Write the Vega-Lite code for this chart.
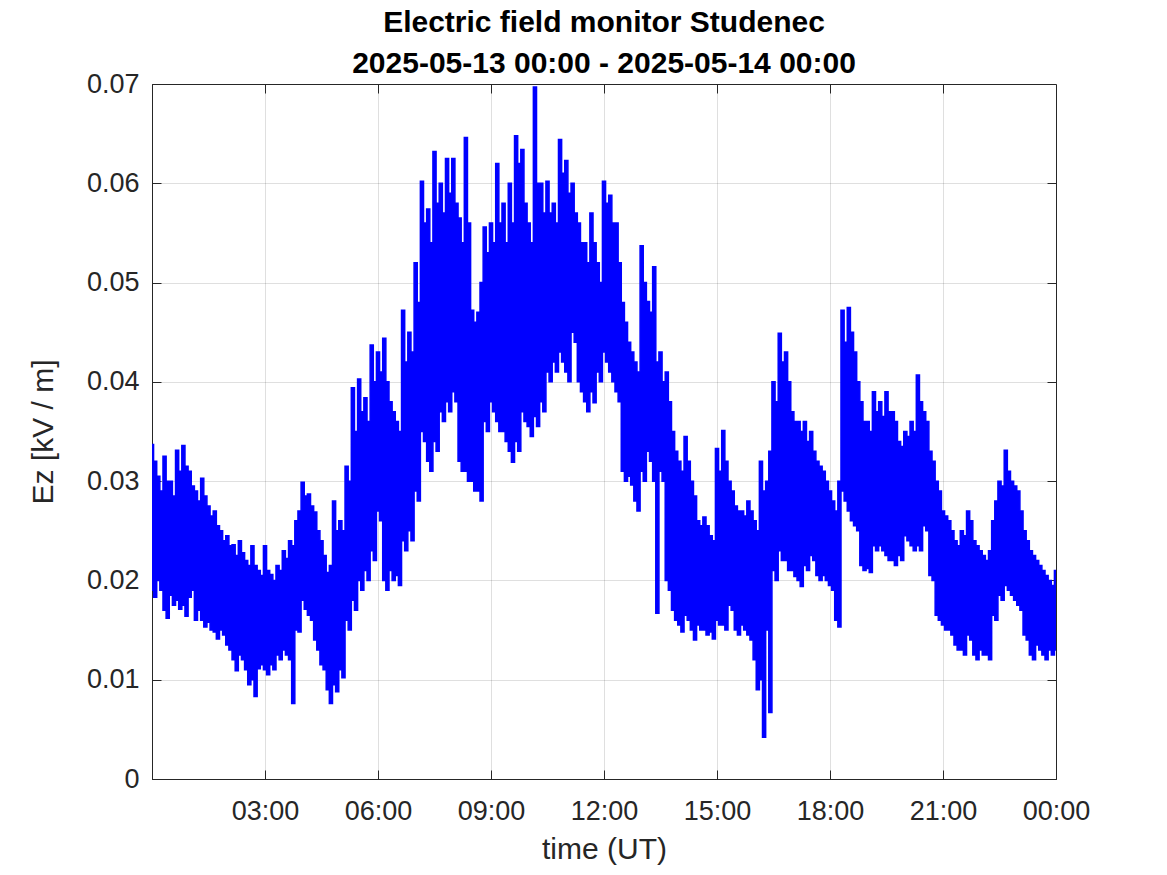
{
  "$schema": "https://vega.github.io/schema/vega-lite/v6.json",
  "width": 904,
  "height": 695,
  "autosize": {"type": "none"},
  "padding": {"left": 152, "top": 84, "right": 111, "bottom": 96},
  "background": "white",
  "config": {
    "font": "Liberation Sans",
    "view": {"stroke": "#262626", "strokeWidth": 1},
    "axis": {
      "domainColor": "#262626",
      "tickColor": "#262626",
      "labelColor": "#262626",
      "titleColor": "#262626",
      "labelFont": "Liberation Sans",
      "titleFont": "Liberation Sans",
      "labelFontSize": 27,
      "titleFontSize": 30,
      "titleFontWeight": "normal",
      "gridColor": "#262626",
      "gridOpacity": 0.15,
      "tickSize": -9
    }
  },
  "title": {
    "text": ["Electric field monitor Studenec", "2025-05-13 00:00 - 2025-05-14 00:00"],
    "fontSize": 30,
    "fontWeight": "bold",
    "color": "#000000",
    "font": "Liberation Sans",
    "anchor": "middle",
    "frame": "group",
    "lineHeight": 41,
    "offset": -9
  },
  "data": {"values": [
    {"m":0,"hi":0.0337,"lo":0.0190},{"m":5,"hi":0.0320,"lo":0.0183},{"m":10,"hi":0.0305,"lo":0.0200},{"m":15,"hi":0.0290,"lo":0.0190},
    {"m":20,"hi":0.0325,"lo":0.0170},{"m":25,"hi":0.0300,"lo":0.0162},{"m":30,"hi":0.0300,"lo":0.0185},{"m":35,"hi":0.0285,"lo":0.0175},
    {"m":40,"hi":0.0331,"lo":0.0180},{"m":45,"hi":0.0310,"lo":0.0171},{"m":50,"hi":0.0336,"lo":0.0175},{"m":55,"hi":0.0315,"lo":0.0164},
    {"m":60,"hi":0.0310,"lo":0.0183},{"m":65,"hi":0.0295,"lo":0.0190},{"m":70,"hi":0.0290,"lo":0.0160},{"m":75,"hi":0.0280,"lo":0.0170},
    {"m":80,"hi":0.0303,"lo":0.0160},{"m":85,"hi":0.0285,"lo":0.0153},{"m":90,"hi":0.0275,"lo":0.0158},{"m":95,"hi":0.0265,"lo":0.0150},
    {"m":100,"hi":0.0270,"lo":0.0148},{"m":105,"hi":0.0255,"lo":0.0141},{"m":110,"hi":0.0250,"lo":0.0150},{"m":115,"hi":0.0240,"lo":0.0145},
    {"m":120,"hi":0.0245,"lo":0.0135},{"m":125,"hi":0.0235,"lo":0.0130},{"m":130,"hi":0.0236,"lo":0.0120},{"m":135,"hi":0.0225,"lo":0.0109},
    {"m":140,"hi":0.0240,"lo":0.0125},{"m":145,"hi":0.0228,"lo":0.0120},{"m":150,"hi":0.0220,"lo":0.0110},{"m":155,"hi":0.0215,"lo":0.0095},
    {"m":160,"hi":0.0235,"lo":0.0100},{"m":165,"hi":0.0215,"lo":0.0083},{"m":170,"hi":0.0210,"lo":0.0111},{"m":175,"hi":0.0205,"lo":0.0115},
    {"m":180,"hi":0.0235,"lo":0.0110},{"m":185,"hi":0.0210,"lo":0.0105},{"m":190,"hi":0.0206,"lo":0.0115},{"m":195,"hi":0.0200,"lo":0.0110},
    {"m":200,"hi":0.0215,"lo":0.0125},{"m":205,"hi":0.0210,"lo":0.0120},{"m":210,"hi":0.0230,"lo":0.0130},{"m":215,"hi":0.0222,"lo":0.0125},
    {"m":220,"hi":0.0240,"lo":0.0120},{"m":225,"hi":0.0235,"lo":0.0076},{"m":230,"hi":0.0260,"lo":0.0150},{"m":235,"hi":0.0270,"lo":0.0148},
    {"m":240,"hi":0.0299,"lo":0.0180},{"m":245,"hi":0.0285,"lo":0.0171},{"m":250,"hi":0.0287,"lo":0.0165},{"m":255,"hi":0.0275,"lo":0.0160},
    {"m":260,"hi":0.0269,"lo":0.0140},{"m":265,"hi":0.0250,"lo":0.0130},{"m":270,"hi":0.0240,"lo":0.0115},{"m":275,"hi":0.0225,"lo":0.0110},
    {"m":280,"hi":0.0208,"lo":0.0090},{"m":285,"hi":0.0215,"lo":0.0076},{"m":290,"hi":0.0280,"lo":0.0095},{"m":295,"hi":0.0250,"lo":0.0088},
    {"m":300,"hi":0.0260,"lo":0.0110},{"m":305,"hi":0.0250,"lo":0.0102},{"m":310,"hi":0.0315,"lo":0.0160},{"m":315,"hi":0.0300,"lo":0.0150},
    {"m":320,"hi":0.0394,"lo":0.0180},{"m":325,"hi":0.0350,"lo":0.0170},{"m":330,"hi":0.0403,"lo":0.0200},{"m":335,"hi":0.0370,"lo":0.0190},
    {"m":340,"hi":0.0384,"lo":0.0210},{"m":345,"hi":0.0360,"lo":0.0200},{"m":350,"hi":0.0437,"lo":0.0230},{"m":355,"hi":0.0400,"lo":0.0220},
    {"m":360,"hi":0.0430,"lo":0.0270},{"m":365,"hi":0.0410,"lo":0.0260},{"m":370,"hi":0.0444,"lo":0.0200},{"m":375,"hi":0.0400,"lo":0.0190},
    {"m":380,"hi":0.0380,"lo":0.0210},{"m":385,"hi":0.0370,"lo":0.0200},{"m":390,"hi":0.0360,"lo":0.0205},{"m":395,"hi":0.0350,"lo":0.0195},
    {"m":400,"hi":0.0472,"lo":0.0240},{"m":405,"hi":0.0420,"lo":0.0230},{"m":410,"hi":0.0450,"lo":0.0250},{"m":415,"hi":0.0430,"lo":0.0240},
    {"m":420,"hi":0.0520,"lo":0.0290},{"m":425,"hi":0.0480,"lo":0.0280},{"m":430,"hi":0.0602,"lo":0.0350},{"m":435,"hi":0.0560,"lo":0.0340},
    {"m":440,"hi":0.0574,"lo":0.0320},{"m":445,"hi":0.0540,"lo":0.0310},{"m":450,"hi":0.0632,"lo":0.0340},{"m":455,"hi":0.0580,"lo":0.0330},
    {"m":460,"hi":0.0600,"lo":0.0370},{"m":465,"hi":0.0570,"lo":0.0360},{"m":470,"hi":0.0625,"lo":0.0380},{"m":475,"hi":0.0590,"lo":0.0370},
    {"m":480,"hi":0.0625,"lo":0.0390},{"m":485,"hi":0.0580,"lo":0.0380},{"m":490,"hi":0.0565,"lo":0.0320},{"m":495,"hi":0.0540,"lo":0.0310},
    {"m":500,"hi":0.0646,"lo":0.0310},{"m":505,"hi":0.0560,"lo":0.0300},{"m":510,"hi":0.0472,"lo":0.0300},{"m":515,"hi":0.0460,"lo":0.0290},
    {"m":520,"hi":0.0470,"lo":0.0290},{"m":525,"hi":0.0500,"lo":0.0280},{"m":530,"hi":0.0556,"lo":0.0360},{"m":535,"hi":0.0530,"lo":0.0350},
    {"m":540,"hi":0.0560,"lo":0.0380},{"m":545,"hi":0.0540,"lo":0.0370},{"m":550,"hi":0.0620,"lo":0.0360},{"m":555,"hi":0.0560,"lo":0.0350},
    {"m":560,"hi":0.0580,"lo":0.0350},{"m":565,"hi":0.0540,"lo":0.0340},{"m":570,"hi":0.0600,"lo":0.0330},{"m":575,"hi":0.0560,"lo":0.0319},
    {"m":580,"hi":0.0648,"lo":0.0340},{"m":585,"hi":0.0620,"lo":0.0330},{"m":590,"hi":0.0634,"lo":0.0370},{"m":595,"hi":0.0580,"lo":0.0360},
    {"m":600,"hi":0.0560,"lo":0.0355},{"m":605,"hi":0.0540,"lo":0.0345},{"m":610,"hi":0.0697,"lo":0.0365},{"m":615,"hi":0.0600,"lo":0.0355},
    {"m":620,"hi":0.0600,"lo":0.0380},{"m":625,"hi":0.0570,"lo":0.0370},{"m":630,"hi":0.0602,"lo":0.0410},{"m":635,"hi":0.0570,"lo":0.0400},
    {"m":640,"hi":0.0580,"lo":0.0420},{"m":645,"hi":0.0560,"lo":0.0410},{"m":650,"hi":0.0644,"lo":0.0430},{"m":655,"hi":0.0610,"lo":0.0420},
    {"m":660,"hi":0.0623,"lo":0.0410},{"m":665,"hi":0.0590,"lo":0.0400},{"m":670,"hi":0.0600,"lo":0.0450},{"m":675,"hi":0.0570,"lo":0.0440},
    {"m":680,"hi":0.0560,"lo":0.0400},{"m":685,"hi":0.0540,"lo":0.0390},{"m":690,"hi":0.0540,"lo":0.0380},{"m":695,"hi":0.0520,"lo":0.0370},
    {"m":700,"hi":0.0570,"lo":0.0390},{"m":705,"hi":0.0540,"lo":0.0379},{"m":710,"hi":0.0520,"lo":0.0410},{"m":715,"hi":0.0500,"lo":0.0400},
    {"m":720,"hi":0.0602,"lo":0.0430},{"m":725,"hi":0.0580,"lo":0.0420},{"m":730,"hi":0.0588,"lo":0.0410},{"m":735,"hi":0.0560,"lo":0.0400},
    {"m":740,"hi":0.0560,"lo":0.0390},{"m":745,"hi":0.0520,"lo":0.0380},{"m":750,"hi":0.0480,"lo":0.0310},{"m":755,"hi":0.0460,"lo":0.0300},
    {"m":760,"hi":0.0440,"lo":0.0305},{"m":765,"hi":0.0430,"lo":0.0296},{"m":770,"hi":0.0420,"lo":0.0280},{"m":775,"hi":0.0410,"lo":0.0270},
    {"m":780,"hi":0.0537,"lo":0.0310},{"m":785,"hi":0.0500,"lo":0.0300},{"m":790,"hi":0.0481,"lo":0.0330},{"m":795,"hi":0.0470,"lo":0.0320},
    {"m":800,"hi":0.0516,"lo":0.0300},{"m":805,"hi":0.0420,"lo":0.0167},{"m":810,"hi":0.0430,"lo":0.0310},{"m":815,"hi":0.0400,"lo":0.0300},
    {"m":820,"hi":0.0410,"lo":0.0200},{"m":825,"hi":0.0380,"lo":0.0190},{"m":830,"hi":0.0350,"lo":0.0170},{"m":835,"hi":0.0330,"lo":0.0160},
    {"m":840,"hi":0.0320,"lo":0.0155},{"m":845,"hi":0.0310,"lo":0.0148},{"m":850,"hi":0.0345,"lo":0.0165},{"m":855,"hi":0.0320,"lo":0.0160},
    {"m":860,"hi":0.0300,"lo":0.0150},{"m":865,"hi":0.0285,"lo":0.0140},{"m":870,"hi":0.0260,"lo":0.0155},{"m":875,"hi":0.0255,"lo":0.0150},
    {"m":880,"hi":0.0264,"lo":0.0150},{"m":885,"hi":0.0255,"lo":0.0145},{"m":890,"hi":0.0245,"lo":0.0148},{"m":895,"hi":0.0240,"lo":0.0141},
    {"m":900,"hi":0.0333,"lo":0.0160},{"m":905,"hi":0.0310,"lo":0.0155},{"m":910,"hi":0.0351,"lo":0.0155},{"m":915,"hi":0.0320,"lo":0.0150},
    {"m":920,"hi":0.0300,"lo":0.0175},{"m":925,"hi":0.0290,"lo":0.0170},{"m":930,"hi":0.0275,"lo":0.0150},{"m":935,"hi":0.0270,"lo":0.0145},
    {"m":940,"hi":0.0270,"lo":0.0155},{"m":945,"hi":0.0265,"lo":0.0150},{"m":950,"hi":0.0280,"lo":0.0145},{"m":955,"hi":0.0270,"lo":0.0140},
    {"m":960,"hi":0.0260,"lo":0.0120},{"m":965,"hi":0.0250,"lo":0.0090},{"m":970,"hi":0.0320,"lo":0.0100},{"m":975,"hi":0.0290,"lo":0.0042},
    {"m":980,"hi":0.0300,"lo":0.0150},{"m":985,"hi":0.0330,"lo":0.0067},{"m":990,"hi":0.0400,"lo":0.0210},{"m":995,"hi":0.0380,"lo":0.0200},
    {"m":1000,"hi":0.0449,"lo":0.0230},{"m":1005,"hi":0.0420,"lo":0.0220},{"m":1010,"hi":0.0430,"lo":0.0220},{"m":1015,"hi":0.0400,"lo":0.0210},
    {"m":1020,"hi":0.0370,"lo":0.0210},{"m":1025,"hi":0.0360,"lo":0.0204},{"m":1030,"hi":0.0360,"lo":0.0200},{"m":1035,"hi":0.0350,"lo":0.0194},
    {"m":1040,"hi":0.0360,"lo":0.0215},{"m":1045,"hi":0.0340,"lo":0.0210},{"m":1050,"hi":0.0350,"lo":0.0225},{"m":1055,"hi":0.0330,"lo":0.0220},
    {"m":1060,"hi":0.0320,"lo":0.0205},{"m":1065,"hi":0.0315,"lo":0.0200},{"m":1070,"hi":0.0310,"lo":0.0205},{"m":1075,"hi":0.0300,"lo":0.0200},
    {"m":1080,"hi":0.0290,"lo":0.0195},{"m":1085,"hi":0.0280,"lo":0.0190},{"m":1090,"hi":0.0270,"lo":0.0160},{"m":1095,"hi":0.0300,"lo":0.0153},
    {"m":1100,"hi":0.0472,"lo":0.0290},{"m":1105,"hi":0.0440,"lo":0.0280},{"m":1110,"hi":0.0475,"lo":0.0270},{"m":1115,"hi":0.0450,"lo":0.0260},
    {"m":1120,"hi":0.0430,"lo":0.0255},{"m":1125,"hi":0.0400,"lo":0.0250},{"m":1130,"hi":0.0380,"lo":0.0215},{"m":1135,"hi":0.0360,"lo":0.0210},
    {"m":1140,"hi":0.0360,"lo":0.0212},{"m":1145,"hi":0.0350,"lo":0.0208},{"m":1150,"hi":0.0390,"lo":0.0235},{"m":1155,"hi":0.0370,"lo":0.0230},
    {"m":1160,"hi":0.0380,"lo":0.0235},{"m":1165,"hi":0.0365,"lo":0.0230},{"m":1170,"hi":0.0390,"lo":0.0225},{"m":1175,"hi":0.0370,"lo":0.0220},
    {"m":1180,"hi":0.0370,"lo":0.0220},{"m":1185,"hi":0.0360,"lo":0.0215},{"m":1190,"hi":0.0340,"lo":0.0225},{"m":1195,"hi":0.0335,"lo":0.0220},
    {"m":1200,"hi":0.0350,"lo":0.0245},{"m":1205,"hi":0.0345,"lo":0.0240},{"m":1210,"hi":0.0360,"lo":0.0235},{"m":1215,"hi":0.0350,"lo":0.0230},
    {"m":1220,"hi":0.0407,"lo":0.0235},{"m":1225,"hi":0.0380,"lo":0.0230},{"m":1230,"hi":0.0370,"lo":0.0255},{"m":1235,"hi":0.0360,"lo":0.0250},
    {"m":1240,"hi":0.0330,"lo":0.0205},{"m":1245,"hi":0.0320,"lo":0.0200},{"m":1250,"hi":0.0300,"lo":0.0165},{"m":1255,"hi":0.0290,"lo":0.0160},
    {"m":1260,"hi":0.0270,"lo":0.0155},{"m":1265,"hi":0.0265,"lo":0.0150},{"m":1270,"hi":0.0260,"lo":0.0150},{"m":1275,"hi":0.0250,"lo":0.0145},
    {"m":1280,"hi":0.0240,"lo":0.0135},{"m":1285,"hi":0.0235,"lo":0.0130},{"m":1290,"hi":0.0250,"lo":0.0130},{"m":1295,"hi":0.0245,"lo":0.0125},
    {"m":1300,"hi":0.0270,"lo":0.0145},{"m":1305,"hi":0.0260,"lo":0.0140},{"m":1310,"hi":0.0240,"lo":0.0125},{"m":1315,"hi":0.0235,"lo":0.0120},
    {"m":1320,"hi":0.0230,"lo":0.0130},{"m":1325,"hi":0.0225,"lo":0.0125},{"m":1330,"hi":0.0220,"lo":0.0125},{"m":1335,"hi":0.0230,"lo":0.0120},
    {"m":1340,"hi":0.0260,"lo":0.0165},{"m":1345,"hi":0.0280,"lo":0.0160},{"m":1350,"hi":0.0300,"lo":0.0185},{"m":1355,"hi":0.0295,"lo":0.0180},
    {"m":1360,"hi":0.0331,"lo":0.0195},{"m":1365,"hi":0.0310,"lo":0.0190},{"m":1370,"hi":0.0300,"lo":0.0185},{"m":1375,"hi":0.0295,"lo":0.0180},
    {"m":1380,"hi":0.0290,"lo":0.0175},{"m":1385,"hi":0.0270,"lo":0.0170},{"m":1390,"hi":0.0250,"lo":0.0145},{"m":1395,"hi":0.0240,"lo":0.0140},
    {"m":1400,"hi":0.0230,"lo":0.0125},{"m":1405,"hi":0.0225,"lo":0.0120},{"m":1410,"hi":0.0220,"lo":0.0135},{"m":1415,"hi":0.0215,"lo":0.0130},
    {"m":1420,"hi":0.0210,"lo":0.0125},{"m":1425,"hi":0.0205,"lo":0.0120},{"m":1430,"hi":0.0200,"lo":0.0130},{"m":1435,"hi":0.0195,"lo":0.0125},
    {"m":1440,"hi":0.0210,"lo":0.0130}
  ]},
  "layer": [
    {
      "mark": {"type": "area", "color": "#0000ff", "interpolate": "step", "stroke": "#0000ff", "strokeWidth": 1.5, "clip": true},
      "encoding": {
        "x": {
          "field": "m", "type": "quantitative",
          "scale": {"domain": [0, 1440], "nice": false, "zero": false},
          "axis": {
            "orient": "bottom",
            "values": [0, 180, 360, 540, 720, 900, 1080, 1260, 1440],
            "labelExpr": "datum.value == 0 ? '' : timeFormat(datetime(2025, 4, 13, 0, datum.value), '%H:%M')",
            "title": "time (UT)",
            "labelPadding": 28,
            "titlePadding": 10,
            "grid": true,
            "labelFlush": false,
            "labelOverlap": false
          }
        },
        "y": {
          "field": "hi", "type": "quantitative",
          "scale": {"domain": [0, 0.07], "nice": false, "zero": false},
          "axis": {
            "orient": "left",
            "values": [0, 0.01, 0.02, 0.03, 0.04, 0.05, 0.06, 0.07],
            "format": ".2~f",
            "title": "Ez [kV / m]",
            "labelPadding": 22,
            "titlePadding": 28,
            "grid": true,
            "labelFlush": false,
            "labelOverlap": false
          }
        },
        "y2": {"field": "lo"}
      }
    },
    {
      "mark": {"type": "line", "opacity": 0},
      "encoding": {
        "x": {
          "field": "m", "type": "quantitative",
          "scale": {"domain": [0, 1440], "nice": false, "zero": false},
          "axis": {"orient": "top", "values": [180, 360, 540, 720, 900, 1080, 1260], "labels": false, "title": null, "grid": false, "domain": false}
        },
        "y": {
          "field": "hi", "type": "quantitative",
          "scale": {"domain": [0, 0.07], "nice": false, "zero": false},
          "axis": {"orient": "right", "values": [0.01, 0.02, 0.03, 0.04, 0.05, 0.06], "labels": false, "title": null, "grid": false, "domain": false}
        }
      }
    }
  ],
  "resolve": {"axis": {"x": "independent", "y": "independent"}}
}
